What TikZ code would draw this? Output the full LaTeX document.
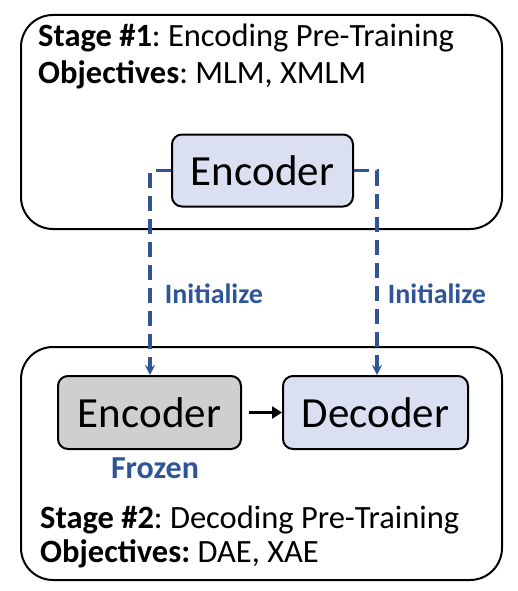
\documentclass[tikz,border=0pt]{standalone}
\usepackage{fontspec}
\setmainfont{Carlito}
\usetikzlibrary{arrows.meta}
\definecolor{iblue}{HTML}{2F5597}
\definecolor{lblue}{HTML}{DAE0F2}
\definecolor{lgray}{HTML}{D0CECE}
\frenchspacing
\tikzset{
  stage/.style={draw=black, line width=2pt, rounded corners=32pt},
  block/.style={draw=black, line width=2pt, rounded corners=10pt, font=\fontsize{43}{50}\selectfont, inner sep=0pt},
  initline/.style={draw=iblue, line width=3.2pt, dash pattern=on 15pt off 8pt, -{Stealth[length=10pt,width=10pt]}},
  bluelbl/.style={text=iblue, font=\bfseries\fontsize{28}{32}\selectfont},
  title/.style={font=\fontsize{32.5}{38}\selectfont, anchor=west, inner sep=0pt}
}
\begin{document}
\begin{tikzpicture}[x=1pt,y=-1pt]
\useasboundingbox (0,0) rectangle (518,591);
\draw[stage] (21,15) rectangle (502,229);
\draw[stage] (21,347) rectangle (502,580);
\node[title] (s1) at (38,38) {\textbf{Stage \#1}: Encoding Pre-Training};
\node[title] (o1) at (38,75) {\textbf{Objectives}: MLM, XMLM};
\node[title] (s2) at (40,520) {\textbf{Stage \#2}: Decoding Pre-Training};
\node[title] (o2) at (40,554) {\textbf{Objectives:} DAE, XAE};
\node[block, fill=lblue, minimum width=181pt, minimum height=72pt] (enc1) at (262.5,170.5) {Encoder};
\node[block, fill=lgray, minimum width=183pt, minimum height=73pt] (enc2) at (149.5,412.5) {Encoder};
\node[block, fill=lblue, minimum width=185pt, minimum height=73pt] (dec) at (375.5,412.5) {Decoder};
\draw[initline] (enc1.west) -| (enc2.north -| 150,0);
\draw[initline] (enc1.east) -| (dec.north -| 377,0);
\draw[line width=3pt, -{Triangle[length=10pt,width=12pt]}] (enc2.east) ++(7,0) coordinate (a1) (a1) -- (dec.west) ;
\node[bluelbl] (i1) at (214,294) {Initialize};
\node[bluelbl] (i2) at (437,294) {Initialize};
\node[bluelbl, font=\bfseries\fontsize{32}{36}\selectfont] (fr) at (155,468) {Frozen};
\end{tikzpicture}
\end{document}
